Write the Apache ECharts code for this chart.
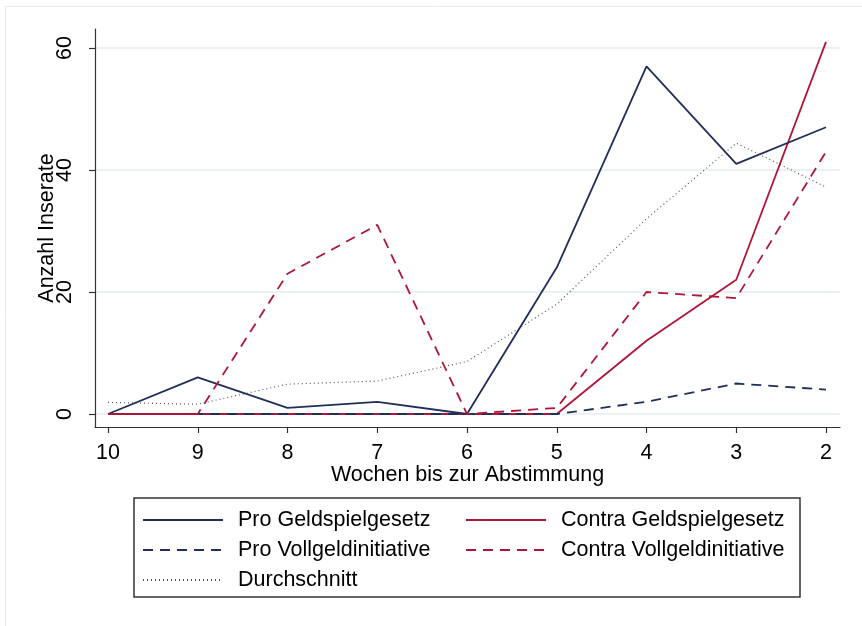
<!DOCTYPE html>
<html>
<head>
<meta charset="utf-8">
<script src="https://cdn.jsdelivr.net/npm/echarts@6/dist/echarts.min.js"></script>
<style>
  html, body { margin: 0; padding: 0; background: #fff; }
  #chart { width: 862px; height: 626px; }
</style>
</head>
<body>
<div id="chart"></div>
<script>
// ── data ────────────────────────────────────────────────
const weeks        = [10, 9, 8, 7, 6, 5, 4, 3, 2]
const proGeld      = [0, 6, 1, 2, 0, 24, 57, 41, 47]
const contraGeld   = [0, 0, 0, 0, 0, 0, 12, 22, 61]
const proVoll      = [0, 0, 0, 0, 0, 0, 2, 5, 4]
const contraVoll   = [0, 0, 23, 31, 0, 1, 20, 19, 43]
const durchschnitt = [1.9, 1.6, 4.9, 5.4, 8.6, 18, 32, 44.4, 37.2]
const yTicks       = [0, 20, 40, 60]

const NAVY = '#1f2f5a'
const RED  = '#ae1639'
const GREY = '#555555'
const FONT = 'Liberation Sans, Arial, sans-serif'
const FS   = 21.5

const pairs = vals => weeks.map((w, i) => [w, vals[i]])

const line = (name, vals, color, type, width) => ({
  name, type: 'line', data: pairs(vals),
  symbol: 'none', silent: true,
  lineStyle: { color, type, width },
  itemStyle: { color },
})

const legendBase = {
  orient: 'vertical',
  top: 504,
  itemWidth: 80, itemHeight: 14, itemGap: 8,
  selectedMode: false,
  itemStyle: { opacity: 0 },
  textStyle: { fontFamily: FONT, fontSize: FS, lineHeight: 20, color: '#000', padding: [0, 0, 0, 10] },
}

const chart = echarts.init(document.getElementById('chart'), null, { renderer: 'canvas' })

chart.setOption({
  animation: false,
  backgroundColor: '#fff',
  grid: { left: 95, right: 22, top: 29, bottom: 199 },
  xAxis: {
    type: 'value', inverse: true,
    min: 1.844, max: 10.145,
    name: 'Wochen bis zur Abstimmung', nameLocation: 'middle', nameGap: 37,
    nameMoveOverlap: false,
    nameTextStyle: { fontFamily: FONT, fontSize: FS, color: '#000' },
    axisLine: { onZero: false, lineStyle: { color: '#333', width: 1.2 } },
    axisTick: { show: true, length: 6, customValues: weeks, lineStyle: { color: '#333', width: 1.2 } },
    axisLabel: { customValues: weeks, margin: 15, fontFamily: FONT, fontSize: FS, color: '#000' },
    splitLine: { show: false },
  },
  yAxis: {
    type: 'value',
    min: -2.13, max: 63.11,
    name: 'Anzahl Inserate', nameLocation: 'middle', nameGap: 37,
    nameMoveOverlap: false,
    nameTextStyle: { fontFamily: FONT, fontSize: FS, color: '#000' },
    axisLine: { show: true, lineStyle: { color: '#333', width: 1.2 } },
    axisTick: { show: true, length: 6, customValues: yTicks, lineStyle: { color: '#333', width: 1.2 } },
    axisLabel: { customValues: yTicks, rotate: 90, margin: 19, fontFamily: FONT, fontSize: FS, color: '#000' },
    splitLine: { show: true, lineStyle: { color: '#e6eef1', width: 1.5 } },
  },
  legend: [
    { ...legendBase, left: 137, data: ['Pro Geldspielgesetz', 'Pro Vollgeldinitiative', 'Durchschnitt'] },
    { ...legendBase, left: 460, data: ['Contra Geldspielgesetz', 'Contra Vollgeldinitiative'] },
  ],
  graphic: [
    { type: 'rect', shape: { x: 5.5, y: 6.5, width: 900, height: 700 }, silent: true,
      style: { fill: 'none', stroke: '#e3ebef', lineWidth: 1 } },
    { type: 'rect', shape: { x: 134, y: 498, width: 666, height: 99 }, silent: true,
      style: { fill: 'none', stroke: '#333', lineWidth: 1.5 } },
  ],
  series: [
    line('Contra Geldspielgesetz', contraGeld, RED, 'solid', 1.8),
    line('Pro Geldspielgesetz', proGeld, NAVY, 'solid', 1.8),
    line('Pro Vollgeldinitiative', proVoll, NAVY, [10, 7], 1.8),
    line('Contra Vollgeldinitiative', contraVoll, RED, [10, 7], 1.8),
    line('Durchschnitt', durchschnitt, GREY, [1, 3], 1.2),
  ],
})
</script>
</body>
</html>
